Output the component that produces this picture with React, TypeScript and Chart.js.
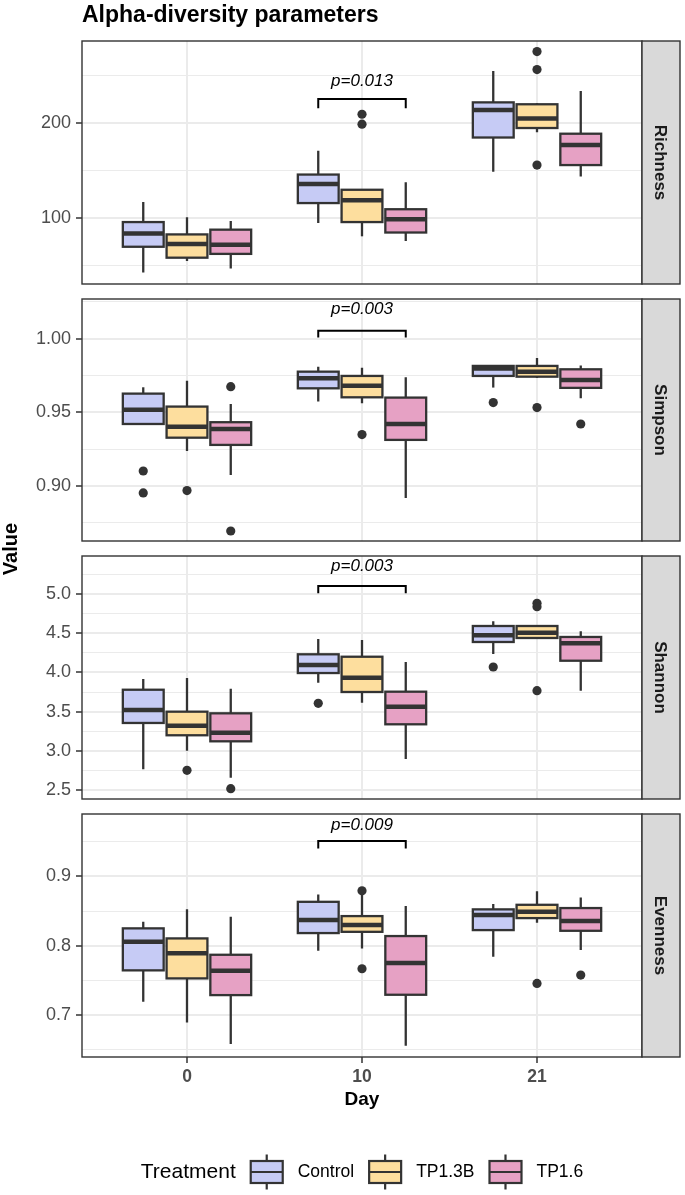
import React, { useEffect, useRef } from 'react';
import { Chart, registerables } from 'chart.js';

Chart.register(...registerables);

// ---------------- data ----------------
const days = ['0', '10', '21'];
const treatments = ['Control', 'TP1.3B', 'TP1.6'];
const metrics = ['Richness', 'Simpson', 'Shannon', 'Evenness'];

// each entry: [lower whisker, Q1, median, Q3, upper whisker] for day 0, 10, 21
const richnessControl = [[43, 70, 84, 96, 117], [95, 116, 136, 146, 171], [149, 185, 214, 222, 255]];
const richnessTP13B = [[55, 58.5, 73, 83, 101], [81, 96, 119, 130, 130], [190.5, 195, 205, 220, 221]];
const richnessTP16 = [[47, 62.5, 72, 88, 97], [76, 85, 99, 109.5, 138], [144, 156, 177, 189, 234]];
const richnessControlOut = [[], [], []];
const richnessTP13BOut = [[], [199, 209.5], [156, 256.5, 275.5]];
const richnessTP16Out = [[], [], []];

const simpsonControl = [[0.9421, 0.9421, 0.9518, 0.9627, 0.967], [0.9573, 0.9663, 0.9731, 0.9776, 0.981], [0.9668, 0.9747, 0.9797, 0.9815, 0.9815]];
const simpsonTP13B = [[0.9238, 0.9328, 0.9403, 0.9539, 0.9715], [0.9562, 0.9602, 0.9681, 0.9747, 0.9803], [0.9733, 0.9742, 0.9776, 0.9815, 0.9869]];
const simpsonTP16 = [[0.9075, 0.9279, 0.9387, 0.9433, 0.9557], [0.8919, 0.9313, 0.9421, 0.96, 0.9738], [0.9596, 0.9666, 0.972, 0.9792, 0.9817]];
const simpsonControlOut = [[0.9102, 0.8953], [], [0.9566]];
const simpsonTP13BOut = [[0.8969], [0.9349], [0.9532]];
const simpsonTP16Out = [[0.9674, 0.8695], [], [0.9421]];

const shannonControl = [[2.764, 3.355, 3.52, 3.779, 3.916], [3.869, 3.992, 4.094, 4.231, 4.426], [4.235, 4.388, 4.473, 4.592, 4.652]];
const shannonTP13B = [[3.001, 3.198, 3.32, 3.499, 3.929], [3.614, 3.75, 3.932, 4.2, 4.413], [4.43, 4.439, 4.506, 4.592, 4.6]];
const shannonTP16 = [[2.657, 3.121, 3.231, 3.478, 3.792], [2.895, 3.338, 3.563, 3.754, 4.133], [3.767, 4.149, 4.371, 4.452, 4.524]];
const shannonControlOut = [[], [3.606], [4.069]];
const shannonTP13BOut = [[2.751], [], [4.881, 4.838, 3.767]];
const shannonTP16Out = [[2.517], [], []];

const evennessControl = [[0.719, 0.7644, 0.8056, 0.825, 0.8345], [0.7926, 0.8182, 0.8369, 0.8633, 0.874], [0.784, 0.8225, 0.8442, 0.8524, 0.86]];
const evennessTP13B = [[0.6893, 0.7528, 0.789, 0.8105, 0.8524], [0.7961, 0.82, 0.8297, 0.8427, 0.873], [0.833, 0.8398, 0.8489, 0.859, 0.8784]];
const evennessTP16 = [[0.658, 0.7287, 0.7638, 0.7869, 0.8417], [0.6556, 0.7292, 0.7749, 0.8139, 0.8571], [0.7936, 0.8215, 0.8355, 0.8543, 0.8697]];
const evennessControlOut = [[], [], []];
const evennessTP13BOut = [[], [0.8792, 0.7667], [0.7456]];
const evennessTP16Out = [[], [], [0.7576]];

// axes
const axisMin = [30.8, 0.8627, 2.385, 0.6394];
const axisMax = [286.6, 1.0269, 5.485, 0.99];
const richnessTicks = [100, 200];
const simpsonTicks = [0.9, 0.95, 1.0];
const shannonTicks = [2.5, 3.0, 3.5, 4.0, 4.5, 5.0];
const evennessTicks = [0.7, 0.8, 0.9];
const richnessMinor = [50, 150, 250];
const simpsonMinor = [0.875, 0.925, 0.975, 1.025];
const shannonMinor = [2.75, 3.25, 3.75, 4.25, 4.75, 5.25];
const evennessMinor = [0.65, 0.75, 0.85, 0.95];
const tickDecimals = [0, 2, 1, 1];

// significance annotation (Control vs TP1.6 on day 10)
const pLabels = ['p=0.013', 'p=0.003', 'p=0.003', 'p=0.009'];
const bracketTop = [225.6, 1.0054, 5.102, 0.951];
const bracketTip = [215.8, 1.0007, 5.009, 0.9404];
const pLabelY = [244.2, 1.02, 5.348, 0.9743];
const bracketDay = 2;
const bracketGroups = [0, 2];

// ---------------- layout / style ----------------
const W = 685;
const H = 1195;
const PLOT_LEFT = 82;
const PLOT_RIGHT = 642;
const STRIP_W = 38;
const panelTops = [41, 299, 556, 814];
const panelBottoms = [284, 541, 799, 1057];
const X_AXIS_H = 40;
const FONT = '"Liberation Sans", Arial, Helvetica, sans-serif';
const DARK = '#333333';
const GRID = '#EBEBEB';
const fills = ['#C6CBF5', '#FDDE9E', '#E6A1C4'];
const dodge = [-0.25, 0, 0.25];
const boxHalf = 0.7 / 3 / 2;

const panels = [
  { name: metrics[0], stats: [richnessControl, richnessTP13B, richnessTP16], out: [richnessControlOut, richnessTP13BOut, richnessTP16Out], major: richnessTicks, minor: richnessMinor },
  { name: metrics[1], stats: [simpsonControl, simpsonTP13B, simpsonTP16], out: [simpsonControlOut, simpsonTP13BOut, simpsonTP16Out], major: simpsonTicks, minor: simpsonMinor },
  { name: metrics[2], stats: [shannonControl, shannonTP13B, shannonTP16], out: [shannonControlOut, shannonTP13BOut, shannonTP16Out], major: shannonTicks, minor: shannonMinor },
  { name: metrics[3], stats: [evennessControl, evennessTP13B, evennessTP16], out: [evennessControlOut, evennessTP13BOut, evennessTP16Out], major: evennessTicks, minor: evennessMinor },
];

function drawKey(ctx: CanvasRenderingContext2D, x: number, cy: number, fill: string) {
  const bw = 32, bh = 22, wh = 6.5;
  ctx.strokeStyle = DARK;
  ctx.lineWidth = 2.2;
  ctx.beginPath();
  ctx.moveTo(x + bw / 2, cy - bh / 2 - wh);
  ctx.lineTo(x + bw / 2, cy - bh / 2);
  ctx.moveTo(x + bw / 2, cy + bh / 2);
  ctx.lineTo(x + bw / 2, cy + bh / 2 + wh);
  ctx.stroke();
  ctx.fillStyle = fill;
  ctx.fillRect(x, cy - bh / 2, bw, bh);
  ctx.strokeRect(x, cy - bh / 2, bw, bh);
  ctx.beginPath();
  ctx.moveTo(x, cy);
  ctx.lineTo(x + bw, cy);
  ctx.stroke();
  return bw;
}

function makePlugin(i: number) {
  const p = panels[i];
  return {
    id: 'panelDecor' + i,
    beforeDatasetsDraw(chart: any) {
      const { ctx, scales } = chart;
      const x = scales.x, y = scales.y;
      ctx.save();
      p.stats.forEach((series, t) => {
        series.forEach((s, d) => {
          const c = d + 1 + dodge[t];
          const xl = x.getPixelForValue(c - boxHalf);
          const xr = x.getPixelForValue(c + boxHalf);
          const xc = x.getPixelForValue(c);
          const [lo, q1, med, q3, hi] = s.map((v) => y.getPixelForValue(v));
          ctx.strokeStyle = DARK;
          ctx.lineWidth = 2.3;
          ctx.beginPath();
          ctx.moveTo(xc, q3);
          ctx.lineTo(xc, hi);
          ctx.moveTo(xc, q1);
          ctx.lineTo(xc, lo);
          ctx.stroke();
          ctx.fillStyle = fills[t];
          ctx.fillRect(xl, q3, xr - xl, q1 - q3);
          ctx.strokeRect(xl, q3, xr - xl, q1 - q3);
          ctx.lineWidth = 4.5;
          ctx.beginPath();
          ctx.moveTo(xl, med);
          ctx.lineTo(xr, med);
          ctx.stroke();
        });
      });
      ctx.restore();
    },
    afterDraw(chart: any) {
      const { ctx, chartArea: a, scales } = chart;
      const x = scales.x, y = scales.y;
      ctx.save();
      // panel border
      ctx.strokeStyle = DARK;
      ctx.lineWidth = 1.4;
      ctx.strokeRect(a.left, a.top, a.right - a.left, a.bottom - a.top);
      // strip
      ctx.fillStyle = '#D9D9D9';
      ctx.fillRect(a.right, a.top, STRIP_W, a.bottom - a.top);
      ctx.strokeRect(a.right, a.top, STRIP_W, a.bottom - a.top);
      ctx.save();
      ctx.translate(a.right + STRIP_W / 2, (a.top + a.bottom) / 2);
      ctx.rotate(Math.PI / 2);
      ctx.fillStyle = '#1A1A1A';
      ctx.font = `bold 17px ${FONT}`;
      ctx.textAlign = 'center';
      ctx.textBaseline = 'middle';
      ctx.fillText(p.name, 0, 1);
      ctx.restore();
      // bracket + p label
      const xa = x.getPixelForValue(bracketDay + dodge[bracketGroups[0]]);
      const xb = x.getPixelForValue(bracketDay + dodge[bracketGroups[1]]);
      const yt = y.getPixelForValue(bracketTop[i]);
      const yb = y.getPixelForValue(bracketTip[i]);
      ctx.strokeStyle = '#000';
      ctx.lineWidth = 2;
      ctx.beginPath();
      ctx.moveTo(xa, yb);
      ctx.lineTo(xa, yt);
      ctx.lineTo(xb, yt);
      ctx.lineTo(xb, yb);
      ctx.stroke();
      ctx.fillStyle = '#000';
      ctx.font = `italic 17px ${FONT}`;
      ctx.textAlign = 'center';
      ctx.textBaseline = 'middle';
      ctx.fillText(pLabels[i], x.getPixelForValue(bracketDay), y.getPixelForValue(pLabelY[i]));

      if (i === 0) {
        ctx.font = `bold 23px ${FONT}`;
        ctx.textAlign = 'left';
        ctx.textBaseline = 'alphabetic';
        ctx.fillStyle = '#000';
        ctx.fillText('Alpha-diversity parameters', a.left, 22);
        ctx.save();
        ctx.translate(11, (panelTops[0] + panelBottoms[3]) / 2);
        ctx.rotate(-Math.PI / 2);
        ctx.font = `bold 20px ${FONT}`;
        ctx.textAlign = 'center';
        ctx.textBaseline = 'middle';
        ctx.fillText('Value', 0, 0);
        ctx.restore();
      }
      if (i === 3) {
        const cx = (a.left + a.right) / 2;
        ctx.font = `bold 19px ${FONT}`;
        ctx.textAlign = 'center';
        ctx.textBaseline = 'middle';
        ctx.fillStyle = '#000';
        ctx.fillText('Day', cx, 1100);
        // legend
        const ly = 1172;
        const gap = 15;
        const keyW = 32;
        ctx.font = `21px ${FONT}`;
        const titleW = ctx.measureText('Treatment').width;
        ctx.font = `17.5px ${FONT}`;
        const labW = treatments.map((t) => ctx.measureText(t).width);
        const total = titleW + gap + treatments.length * (keyW + gap) + labW.reduce((s, v) => s + v, 0) + (treatments.length - 1) * gap;
        let cur = cx - total / 2;
        ctx.textAlign = 'left';
        ctx.fillStyle = '#000';
        ctx.font = `21px ${FONT}`;
        ctx.fillText('Treatment', cur, ly);
        cur += titleW + gap;
        treatments.forEach((t, k) => {
          drawKey(ctx, cur, ly, fills[k]);
          cur += keyW + gap;
          ctx.fillStyle = '#000';
          ctx.font = `17.5px ${FONT}`;
          ctx.textBaseline = 'middle';
          ctx.fillText(t, cur, ly);
          cur += labW[k] + gap;
        });
      }
      ctx.restore();
    },
  };
}

function buildConfig(i: number): any {
  const p = panels[i];
  const allTicks = [...p.minor, ...p.major].filter((v) => v >= axisMin[i] && v <= axisMax[i]).sort((a, b) => a - b);
  const isMajor = (v: number) => p.major.some((m) => Math.abs(m - v) < 1e-9);
  const last = i === 3;
  return {
    type: 'scatter',
    data: {
      datasets: treatments.map((t, ti) => ({
        label: t,
        data: p.out[ti].flatMap((arr: number[], di: number) => arr.map((v) => ({ x: di + 1 + dodge[ti], y: v }))),
        pointRadius: 4.6,
        pointHoverRadius: 4.6,
        pointBackgroundColor: DARK,
        pointBorderWidth: 0,
      })),
    },
    options: {
      animation: false,
      responsive: false,
      devicePixelRatio: 1,
      events: [],
      layout: {
        padding: {
          left: 0,
          right: W - PLOT_RIGHT,
          top: panelTops[i],
          bottom: H - panelBottoms[i] - (last ? X_AXIS_H : 0),
        },
      },
      plugins: { legend: { display: false }, title: { display: false }, tooltip: { enabled: false } },
      scales: {
        x: {
          type: 'linear',
          min: 0.4,
          max: 3.6,
          afterBuildTicks: (s: any) => {
            s.ticks = days.map((_, k) => ({ value: k + 1 }));
          },
          afterFit: (s: any) => {
            s.height = last ? X_AXIS_H : 0;
          },
          border: { display: false },
          grid: { color: GRID, lineWidth: 2, drawTicks: last, tickLength: 6, tickColor: DARK, tickWidth: 1.5 },
          ticks: {
            display: last,
            autoSkip: false,
            maxRotation: 0,
            padding: 4,
            color: '#4D4D4D',
            font: { family: FONT, size: 17.5, weight: 'bold' },
            callback: (v: number) => days[Math.round(v) - 1],
          },
        },
        y: {
          type: 'linear',
          min: axisMin[i],
          max: axisMax[i],
          afterBuildTicks: (s: any) => {
            s.ticks = allTicks.map((v) => ({ value: v }));
          },
          afterFit: (s: any) => {
            s.width = PLOT_LEFT;
          },
          border: { display: false },
          grid: {
            color: GRID,
            lineWidth: (c: any) => (c.tick && isMajor(c.tick.value) ? 2 : 1),
            drawTicks: true,
            tickLength: 6,
            tickColor: (c: any) => (c.tick && isMajor(c.tick.value) ? DARK : 'rgba(0,0,0,0)'),
            tickWidth: 1.5,
          },
          ticks: {
            autoSkip: false,
            padding: 5,
            color: '#4D4D4D',
            font: { family: FONT, size: 18 },
            callback: (v: number) => (isMajor(v) ? v.toFixed(tickDecimals[i]) : ''),
          },
        },
      },
    },
    plugins: [makePlugin(i)],
  };
}

export default function App() {
  const refs = useRef<(HTMLCanvasElement | null)[]>([]);
  useEffect(() => {
    const prev = document.body.style.margin;
    document.body.style.margin = '0';
    const charts = panels.map((_, i) => new Chart(refs.current[i] as HTMLCanvasElement, buildConfig(i)));
    return () => {
      charts.forEach((c) => c.destroy());
      document.body.style.margin = prev;
    };
  }, []);
  return (
    <div style={{ position: 'relative', width: W, height: H, background: '#ffffff' }}>
      {panels.map((_, i) => (
        <canvas
          key={i}
          ref={(el) => {
            refs.current[i] = el;
          }}
          width={W}
          height={H}
          style={{ position: 'absolute', left: 0, top: 0, width: W, height: H }}
        />
      ))}
    </div>
  );
}
